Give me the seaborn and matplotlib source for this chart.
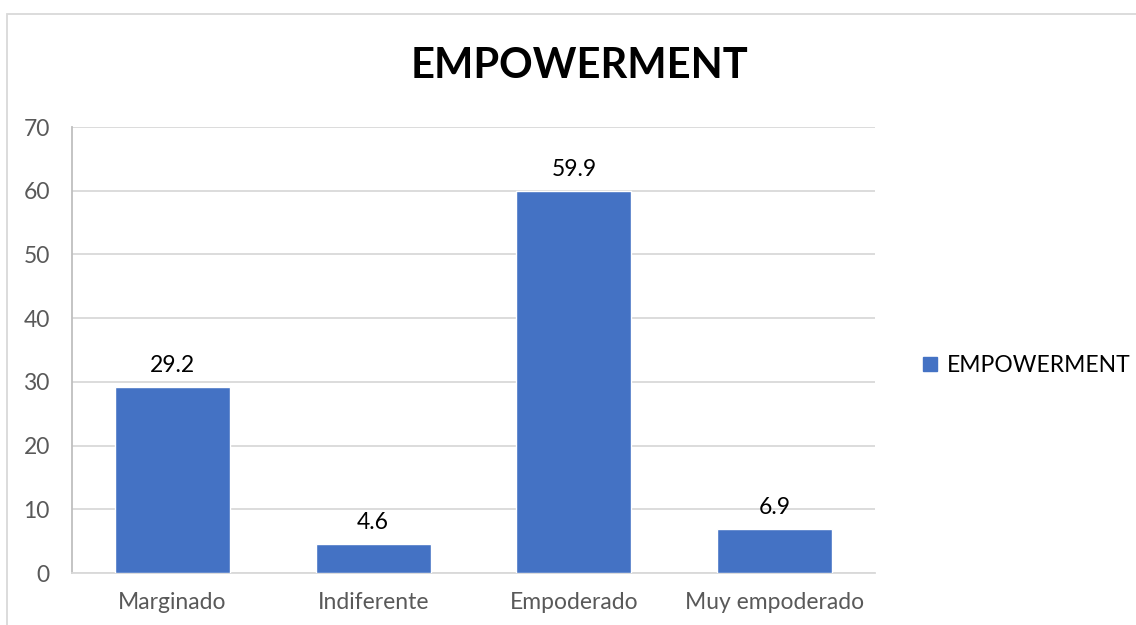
import matplotlib
matplotlib.use("Agg")
import matplotlib.pyplot as plt
from matplotlib.patches import Rectangle
from matplotlib.lines import Line2D
import seaborn as sns
import pandas as pd

categories = ["Marginado", "Indiferente", "Empoderado", "Muy empoderado"]
values = [29.2, 4.6, 59.9, 6.9]
series_name = "EMPOWERMENT"
y_ticks = [0, 10, 20, 30, 40, 50, 60, 70]

sns.set_theme(style="white")
plt.rcParams["font.family"] = ["Lato", "DejaVu Sans"]

BAR = "#4472C4"
GRID = "#D9D9D9"
TICK = "#595959"

df = pd.DataFrame({"categoria": categories, "valor": values})

W, H = 1136, 625
fig = plt.figure(figsize=(W / 100, H / 100), dpi=100)
ax = fig.add_axes([72 / W, 1 - 573 / H, (875 - 72) / W, (573 - 127) / H])

sns.barplot(data=df, x="categoria", y="valor", color=BAR, width=0.573,
            saturation=1, ax=ax, zorder=3)

ax.set_ylim(0, 70)
ax.set_yticks(y_ticks)
ax.set_xlim(-0.5, len(categories) - 0.5)
ax.yaxis.grid(True, color=GRID, linewidth=1.3, zorder=0)
ax.set_axisbelow(True)
for side in ["top", "right"]:
    ax.spines[side].set_visible(False)
ax.spines["left"].set_color("#BFBFBF")
ax.spines["left"].set_linewidth(1.3)
ax.spines["bottom"].set_color(GRID)
ax.spines["bottom"].set_linewidth(1.3)
ax.set_xlabel("")
ax.set_ylabel("")
ax.tick_params(axis="both", length=0, labelsize=16.5, labelcolor=TICK)
ax.tick_params(axis="y", pad=16)
ax.tick_params(axis="x", pad=14)

for p, v in zip(ax.patches, values):
    ax.annotate(f"{v:.1f}", (p.get_x() + p.get_width() / 2, v),
                xytext=(0, 8), textcoords="offset points",
                ha="center", va="bottom", fontsize=16.5, color="black")

fig.text(580 / W, 1 - 66 / H, series_name, ha="center", va="center",
         fontsize=30, fontweight="bold", color="black")

handle = Line2D([], [], marker="s", linestyle="none", markersize=10,
                markerfacecolor=BAR, markeredgecolor=BAR)
fig.legend([handle], [series_name], loc="center left",
           bbox_to_anchor=(896 / W, 1 - 366 / H), frameon=False,
           fontsize=16.5, handletextpad=0.1, handlelength=1.2,
           labelcolor="black")

fig.add_artist(Rectangle((7 / W, -0.1), 1.1, 1 - 14 / H + 0.1,
                         transform=fig.transFigure, fill=False,
                         edgecolor="#D9D9D9", linewidth=1.3))

fig.savefig("out.png", dpi=100)
